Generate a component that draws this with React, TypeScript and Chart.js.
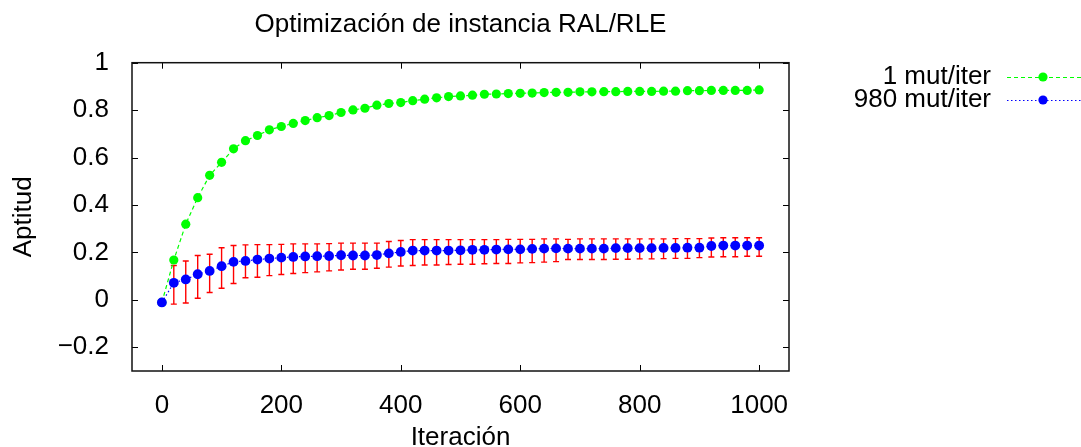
import React, { useEffect, useRef } from 'react';
import { Chart, registerables } from 'chart.js';

Chart.register(...registerables);

const FONT = '"Liberation Sans", Arial, Helvetica, sans-serif';

const chartTitle = 'Optimización de instancia RAL/RLE';
const xAxisTitle = 'Iteración';
const yAxisTitle = 'Aptitud';
const seriesNames = ['1 mut/iter', '980 mut/iter'];

const iterations = [
  0, 20, 40, 60, 80, 100, 120, 140, 160, 180, 200, 220, 240, 260, 280, 300, 320, 340, 360, 380,
  400, 420, 440, 460, 480, 500, 520, 540, 560, 580, 600, 620, 640, 660, 680, 700, 720, 740, 760,
  780, 800, 820, 840, 860, 880, 900, 920, 940, 960, 980, 1000,
];

const oneMut = [
  -0.011, 0.168, 0.319, 0.431, 0.525, 0.58, 0.637, 0.671, 0.693, 0.717, 0.731, 0.744, 0.756,
  0.768, 0.777, 0.79, 0.801, 0.808, 0.821, 0.828, 0.832, 0.84, 0.846, 0.852, 0.857, 0.86, 0.863,
  0.867, 0.868, 0.87, 0.871, 0.872, 0.874, 0.875, 0.875, 0.877, 0.877, 0.878, 0.878, 0.879,
  0.879, 0.879, 0.88, 0.88, 0.882, 0.882, 0.883, 0.883, 0.883, 0.883, 0.885,
];

const manyMut = [
  -0.011, 0.072, 0.086, 0.108, 0.122, 0.142, 0.16, 0.164, 0.17, 0.174, 0.178, 0.181, 0.183,
  0.184, 0.185, 0.188, 0.187, 0.187, 0.189, 0.196, 0.202, 0.208, 0.208, 0.208, 0.208, 0.209,
  0.211, 0.211, 0.212, 0.213, 0.213, 0.215, 0.216, 0.217, 0.216, 0.216, 0.216, 0.216, 0.218,
  0.218, 0.218, 0.218, 0.219, 0.219, 0.22, 0.22, 0.227, 0.229, 0.229, 0.229, 0.229,
];

const manyMutHigh = [
  -0.011, 0.145, 0.164, 0.187, 0.192, 0.22, 0.229, 0.232, 0.233, 0.233, 0.234, 0.236, 0.236,
  0.236, 0.237, 0.239, 0.239, 0.239, 0.239, 0.246, 0.25, 0.254, 0.254, 0.254, 0.254, 0.254,
  0.254, 0.254, 0.254, 0.255, 0.255, 0.255, 0.257, 0.257, 0.255, 0.257, 0.257, 0.257, 0.257,
  0.257, 0.257, 0.257, 0.257, 0.258, 0.258, 0.258, 0.261, 0.262, 0.262, 0.262, 0.262,
];

const manyMutLow = [
  -0.011, -0.018, -0.013, 0.007, 0.031, 0.049, 0.069, 0.093, 0.095, 0.102, 0.107, 0.111, 0.115,
  0.118, 0.122, 0.126, 0.129, 0.129, 0.133, 0.138, 0.143, 0.145, 0.147, 0.147, 0.149, 0.15,
  0.15, 0.152, 0.153, 0.153, 0.156, 0.157, 0.159, 0.161, 0.17, 0.17, 0.17, 0.17, 0.171, 0.171,
  0.173, 0.173, 0.174, 0.175, 0.175, 0.178, 0.181, 0.182, 0.182, 0.184, 0.184,
];

const xTicks = [0, 200, 400, 600, 800, 1000];
const xTickLabels = ['0', '200', '400', '600', '800', '1000'];
const yTicks = [-0.2, 0, 0.2, 0.4, 0.6, 0.8, 1];
const yTickLabels = ['\u22120.2', '0', '0.2', '0.4', '0.6', '0.8', '1'];

const GREEN = '#00ff00';
const BLUE = '#0000ff';
const RED = '#ff0000';

const errorBarsPlugin = {
  id: 'errorBars',
  beforeDatasetsDraw(chart: any) {
    const { ctx, chartArea, scales } = chart;
    const xs = scales.x;
    const ys = scales.y;
    ctx.save();
    ctx.beginPath();
    ctx.rect(chartArea.left, chartArea.top, chartArea.right - chartArea.left, chartArea.bottom - chartArea.top);
    ctx.clip();
    ctx.strokeStyle = RED;
    ctx.lineWidth = 1.4;
    for (let i = 0; i < iterations.length; i++) {
      if (manyMutHigh[i] === manyMutLow[i]) continue;
      const px = xs.getPixelForValue(iterations[i]);
      const pt = ys.getPixelForValue(manyMutHigh[i]);
      const pb = ys.getPixelForValue(manyMutLow[i]);
      ctx.beginPath();
      ctx.moveTo(px, pt);
      ctx.lineTo(px, pb);
      ctx.moveTo(px - 3, pt);
      ctx.lineTo(px + 3, pt);
      ctx.moveTo(px - 3, pb);
      ctx.lineTo(px + 3, pb);
      ctx.stroke();
    }
    ctx.restore();
  },
};

const framePlugin = {
  id: 'frameTicks',
  afterDatasetsDraw(chart: any) {
    const { ctx, chartArea, scales } = chart;
    const { left, right, top, bottom } = chartArea;
    const tl = 6;
    ctx.save();
    ctx.strokeStyle = '#000';
    ctx.lineWidth = 1;
    ctx.beginPath();
    for (const v of xTicks) {
      const px = Math.round(scales.x.getPixelForValue(v)) + 0.5;
      ctx.moveTo(px, bottom);
      ctx.lineTo(px, bottom - tl);
      ctx.moveTo(px, top);
      ctx.lineTo(px, top + tl);
    }
    for (const v of yTicks) {
      const py = Math.round(scales.y.getPixelForValue(v)) + 0.5;
      ctx.moveTo(left, py);
      ctx.lineTo(left + tl, py);
      ctx.moveTo(right, py);
      ctx.lineTo(right - tl, py);
    }
    ctx.stroke();
    ctx.lineWidth = 1.5;
    ctx.strokeStyle = '#111';
    ctx.strokeRect(left, top, right - left, bottom - top);
    ctx.restore();
  },
};

const keyPlugin = {
  id: 'gnuKey',
  afterDraw(chart: any) {
    const { ctx } = chart;
    const entries = [
      { label: seriesNames[0], color: GREEN, dash: [4, 3], y: 77 },
      { label: seriesNames[1], color: BLUE, dash: [1.5, 2.5], y: 100 },
    ];
    ctx.save();
    ctx.font = `26px ${FONT}`;
    ctx.textAlign = 'right';
    ctx.textBaseline = 'middle';
    for (const e of entries) {
      ctx.fillStyle = '#000';
      ctx.fillText(e.label, 991, e.y);
      ctx.strokeStyle = e.color;
      ctx.lineWidth = 1.2;
      ctx.setLineDash(e.dash);
      ctx.beginPath();
      ctx.moveTo(1007, e.y + 0.5);
      ctx.lineTo(1081, e.y + 0.5);
      ctx.stroke();
      ctx.setLineDash([]);
      ctx.fillStyle = e.color;
      ctx.beginPath();
      ctx.arc(1043, e.y, 4.6, 0, Math.PI * 2);
      ctx.fill();
    }
    ctx.restore();
  },
};

export default function App() {
  const ref = useRef<HTMLCanvasElement>(null);

  useEffect(() => {
    if (!ref.current) return;
    const font = { family: FONT, size: 26, weight: 'normal' as const };
    const chart = new Chart(ref.current, {
      type: 'line',
      data: {
        datasets: [
          {
            label: seriesNames[0],
            data: iterations.map((it, i) => ({ x: it, y: oneMut[i] })),
            borderColor: GREEN,
            backgroundColor: GREEN,
            borderWidth: 1.2,
            borderDash: [4, 3],
            pointRadius: 4.6,
            pointBorderWidth: 0,
            pointBackgroundColor: GREEN,
            fill: false,
            tension: 0,
            order: 1,
          },
          {
            label: seriesNames[1],
            data: iterations.map((it, i) => ({ x: it, y: manyMut[i] })),
            borderColor: BLUE,
            backgroundColor: BLUE,
            borderWidth: 1.2,
            borderDash: [1.5, 2.5],
            pointRadius: 4.9,
            pointBorderWidth: 0,
            pointBackgroundColor: BLUE,
            fill: false,
            tension: 0,
            order: 0,
          },
        ],
      },
      options: {
        animation: false,
        responsive: true,
        maintainAspectRatio: false,
        layout: { padding: { top: 0, left: 0, right: 292, bottom: 0 } },
        plugins: {
          legend: { display: false },
          tooltip: { enabled: false },
          title: {
            display: true,
            text: chartTitle,
            color: '#000',
            font,
            fullSize: false,
            padding: { top: 9.5, bottom: 22 },
          },
        },
        scales: {
          x: {
            type: 'linear',
            min: -50,
            max: 1050,
            afterBuildTicks: (s: any) => {
              s.ticks = xTicks.map((v) => ({ value: v }));
            },
            afterFit: (s: any) => {
              s.height = 76;
            },
            grid: { display: false },
            border: { display: false },
            ticks: {
              color: '#000',
              font,
              padding: 11.5,
              autoSkip: false,
              maxRotation: 0,
              callback: (_v: any, i: number) => xTickLabels[i],
            },
            title: {
              display: true,
              text: xAxisTitle,
              color: '#000',
              font,
              padding: { top: 0, bottom: -6 },
            },
          },
          y: {
            type: 'linear',
            min: -0.3,
            max: 1,
            afterBuildTicks: (s: any) => {
              s.ticks = yTicks.map((v) => ({ value: v }));
            },
            afterFit: (s: any) => {
              s.width = 132;
            },
            grid: { display: false },
            border: { display: false },
            ticks: {
              color: '#000',
              font,
              padding: 15,
              autoSkip: false,
              callback: (_v: any, i: number) => yTickLabels[i],
            },
            title: {
              display: true,
              text: yAxisTitle,
              color: '#000',
              font,
              padding: { top: 8, bottom: 0 },
            },
          },
        },
      },
      plugins: [errorBarsPlugin, framePlugin, keyPlugin],
    });
    return () => chart.destroy();
  }, []);

  return (
    <div style={{ position: 'fixed', left: 0, top: 0, width: 1081, height: 447, background: '#fff' }}>
      <canvas ref={ref} />
    </div>
  );
}
